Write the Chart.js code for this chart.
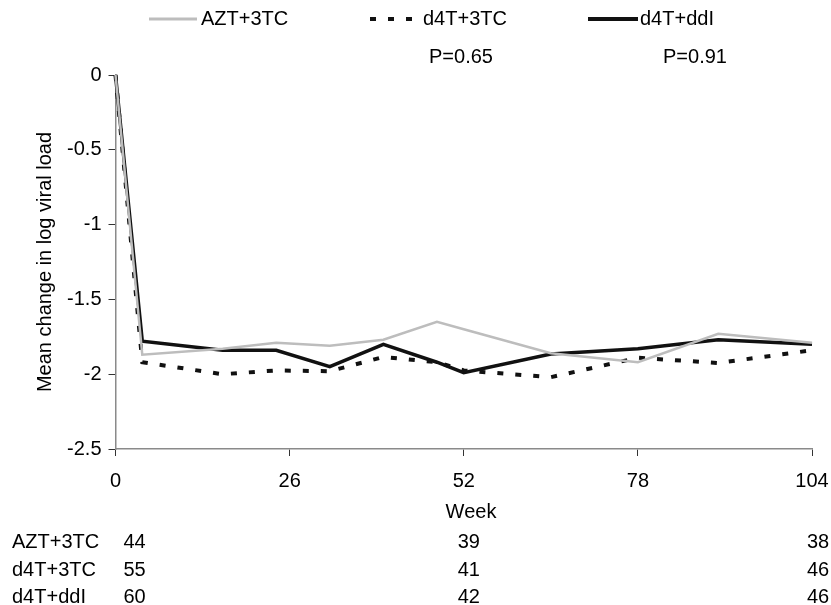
<!DOCTYPE html>
<html>
<head>
<meta charset="utf-8">
<title>Mean change in log viral load</title>
<script src="https://cdn.jsdelivr.net/npm/chart.js@4/dist/chart.umd.min.js"></script>
<style>
  html, body { margin: 0; padding: 0; background: #fff; }
  #wrap { width: 831px; height: 605px; position: relative; }
</style>
</head>
<body>
<div id="wrap"><canvas id="viralChart"></canvas></div>
<script>
// Mean change in log viral load by week, three regimens, with patient counts below.

const weeks = [0, 4, 16, 24, 32, 40, 48, 52, 65, 78, 90, 104];
const aztValues = [0, -1.87, -1.83, -1.79, -1.81, -1.77, -1.65, -1.70, -1.86, -1.92, -1.73, -1.79];
const d4t3tcValues = [0, -1.92, -2.0, -1.975, -1.98, -1.885, -1.92, -1.975, -2.02, -1.89, -1.925, -1.84];
const d4tddiValues = [0, -1.78, -1.84, -1.84, -1.95, -1.8, -1.92, -1.99, -1.865, -1.83, -1.77, -1.8];

const seriesNames = ["AZT+3TC", "d4T+3TC", "d4T+ddI"];
const xTicks = [0, 26, 52, 78, 104];
const yTicks = [0, -0.5, -1, -1.5, -2, -2.5];

const pLabels = ["P=0.65", "P=0.91"];
const countWeeks = [0, 52, 104];
const aztCounts = [44, 39, 38];
const d4t3tcCounts = [55, 41, 46];
const d4tddiCounts = [60, 42, 46];

const FONT = '"Liberation Sans", Arial, sans-serif';
const FONT_SIZE = 20;

function toPoints(values) {
  return values.map((v, i) => ({ x: weeks[i], y: v }));
}

// legend, p-values, axis titles and the counts table
const extrasPlugin = {
  id: "extras",
  afterDraw(chart) {
    const ctx = chart.ctx;
    const xs = chart.scales.x;
    const area = chart.chartArea;
    ctx.save();
    ctx.fillStyle = "#000";
    ctx.font = `${FONT_SIZE}px ${FONT}`;
    ctx.textBaseline = "middle";

    // legend
    const legendY = 19;
    ctx.lineCap = "butt";
    ctx.strokeStyle = "#bdbdbd";
    ctx.lineWidth = 3;
    ctx.beginPath();
    ctx.moveTo(149, legendY);
    ctx.lineTo(197, legendY);
    ctx.stroke();

    ctx.strokeStyle = "#111";
    ctx.lineWidth = 4;
    ctx.setLineDash([6, 12]);
    ctx.beginPath();
    ctx.moveTo(370, legendY);
    ctx.lineTo(414, legendY);
    ctx.stroke();
    ctx.setLineDash([]);

    ctx.lineWidth = 4;
    ctx.beginPath();
    ctx.moveTo(588, legendY);
    ctx.lineTo(638, legendY);
    ctx.stroke();

    ctx.textAlign = "left";
    ctx.fillText(seriesNames[0], 201, legendY);
    ctx.fillText(seriesNames[1], 423, legendY);
    ctx.fillText(seriesNames[2], 640, legendY);

    // p-values
    ctx.textAlign = "center";
    ctx.fillText(pLabels[0], 461, 57);
    ctx.fillText(pLabels[1], 695, 57);

    // axis titles
    ctx.fillText("Week", 471, 512);
    ctx.save();
    ctx.translate(45, (area.top + area.bottom) / 2);
    ctx.rotate(-Math.PI / 2);
    ctx.fillText("Mean change in log viral load", 0, 0);
    ctx.restore();

    // counts table
    const rows = [aztCounts, d4t3tcCounts, d4tddiCounts];
    const rowY = [542, 570, 597];
    rows.forEach((counts, r) => {
      ctx.textAlign = "left";
      ctx.fillText(seriesNames[r], 12, rowY[r]);
      counts.forEach((n, c) => {
        const px = xs.getPixelForValue(countWeeks[c]);
        if (c === 0) {
          ctx.textAlign = "left";
          ctx.fillText(String(n), px + 8, rowY[r]);
        } else {
          ctx.textAlign = "center";
          ctx.fillText(String(n), px + (c === 2 ? 6 : 5), rowY[r]);
        }
      });
    });
    ctx.restore();
  },
};

function renderChart() {
  const ctx = document.getElementById("viralChart");

  new Chart(ctx, {
    type: "line",
    data: {
      datasets: [
        {
          label: seriesNames[0],
          data: toPoints(aztValues),
          borderColor: "#bdbdbd",
          borderWidth: 2.5,
        },
        {
          label: seriesNames[1],
          data: toPoints(d4t3tcValues),
          borderColor: "#111",
          borderWidth: 4,
          borderDash: [6, 12],
        },
        {
          label: seriesNames[2],
          data: toPoints(d4tddiValues),
          borderColor: "#111",
          borderWidth: 3.5,
        },
      ],
    },
    options: {
      responsive: true,
      maintainAspectRatio: false,
      animation: false,
      devicePixelRatio: 1,
      clip: false,
      elements: {
        point: { radius: 0, hoverRadius: 0 },
        line: { tension: 0, fill: false },
      },
      layout: { padding: { left: 0, right: 19, top: 75, bottom: 0 } },
      plugins: {
        legend: { display: false },
        tooltip: { enabled: false },
      },
      scales: {
        x: {
          type: "linear",
          min: 0,
          max: 104,
          afterBuildTicks(scale) {
            scale.ticks = xTicks.map((v) => ({ value: v }));
          },
          afterFit(scale) {
            scale.height = 605 - 449;
            scale.paddingLeft = 0;
            scale.paddingRight = 0;
          },
          ticks: {
            color: "#000",
            font: { family: FONT, size: FONT_SIZE },
            padding: 13,
            maxRotation: 0,
            callback: (v) => String(v),
          },
          grid: {
            drawOnChartArea: false,
            tickLength: 7,
            color: "#333",
          },
          border: { color: "#8a8a8a", width: 1.5 },
        },
        y: {
          min: -2.5,
          max: 0,
          afterBuildTicks(scale) {
            scale.ticks = yTicks.map((v) => ({ value: v }));
          },
          afterFit(scale) {
            scale.width = 115.5;
          },
          ticks: {
            color: "#000",
            font: { family: FONT, size: FONT_SIZE },
            padding: 7,
            callback: (v) => String(Math.round(v * 10) / 10),
          },
          grid: {
            drawOnChartArea: false,
            tickLength: 7,
            color: "#333",
          },
          border: { color: "#8a8a8a", width: 1.5 },
        },
      },
    },
    plugins: [extrasPlugin],
  });
}

document.addEventListener("DOMContentLoaded", renderChart);
</script>
</body>
</html>
